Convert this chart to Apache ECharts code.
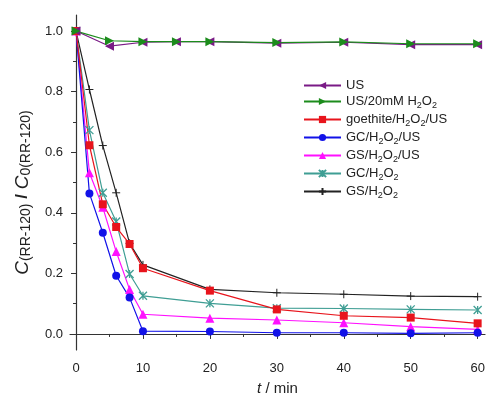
<!DOCTYPE html>
<html><head><meta charset="utf-8">
<script src="https://cdn.jsdelivr.net/npm/echarts@6/dist/echarts.min.js"></script>
<style>html,body{margin:0;padding:0;background:#fff}#c{width:490px;height:394px}</style>
</head><body><div id="c"></div>
<script>
const tUS = [0,5,10,15,20,30,40,50,60];
const us = [1.0,0.95,0.963,0.965,0.965,0.96,0.963,0.955,0.955];
const us20 = [1.0,0.968,0.965,0.965,0.965,0.962,0.964,0.958,0.958];
const t = [0,2,4,6,8,10,20,30,40,50,60];
const goethite = [1,0.623,0.428,0.353,0.297,0.217,0.143,0.081,0.06,0.054,0.035];
const gcUS = [1,0.464,0.334,0.192,0.12,0.009,0.008,0.004,0.004,0.002,0.004];
const gsUS = [1,0.532,0.418,0.272,0.147,0.065,0.052,0.046,0.037,0.024,0.015];
const gcH = [1,0.673,0.466,0.371,0.198,0.126,0.101,0.085,0.084,0.081,0.079];
const gsH = [1,0.807,0.622,0.466,0.299,0.228,0.147,0.136,0.131,0.125,0.123];
const names = ['US','US/20mM H2O2','goethite/H2O2/US','GC/H2O2/US','GS/H2O2/US','GC/H2O2','GS/H2O2'];
const xLabels = [0,10,20,30,40,50,60];
const xMinor = [5,15,25,35,45,55];
const yLabels = [0,0.2,0.4,0.6,0.8,1.0];
const yMinor = [0.1,0.3,0.5,0.7,0.9];

const pair = (xs, ys) => xs.map((x,i)=>[x,ys[i]]);
const plusPath = 'path://M5,0L5,10M0,5L10,5';
const xPath = 'path://M0,0L10,10M10,0L0,10M5,0L5,10';

function ser(name, xs, ys, color, symbol, size, extra){
  return Object.assign({
    name, type:'line', data: pair(xs,ys), symbol, symbolSize: size,
    lineStyle:{width:1.2,color}, itemStyle:{color, borderColor: color, borderWidth: 0},
    color, animation:false
  }, extra||{});
}
const series = [
  ser(names[6], t, gsH, '#222222', plusPath, 8, {itemStyle:{color:'#222',borderColor:'#222',borderWidth:1}}),
  ser(names[5], t, gcH, '#3f9e94', xPath, 8, {itemStyle:{color:'#3f9e94',borderColor:'#3f9e94',borderWidth:1.3}}),
  ser(names[4], t, gsUS, '#ff10ff', 'triangle', 9),
  ser(names[3], t, gcUS, '#1212e8', 'circle', 8),
  ser(names[2], t, goethite, '#e8141c', 'rect', 8),
  ser(names[0], tUS, us, '#7a1a86', 'triangle', 9, {symbolRotate:90}),
  ser(names[1], tUS, us20, '#1c8c1c', 'triangle', 9, {symbolRotate:-90}),
];

const fmt = n => n.replace(/H2O2/g,'H{s|2}O{s|2}');
const axisCol = '#333';
const option = {
  animation:false,
  textStyle:{fontFamily:'Liberation Sans'},
  grid:{left:70,top:15,right:5,bottom:44,outerBoundsMode:'none'},
  legend:{
    data: names, orient:'vertical', left:298, top:74,
    itemWidth:37, itemHeight:9, itemGap:3,
    formatter: fmt,
    textStyle:{fontSize:13,color:'#222',fontFamily:'Liberation Sans',
      rich:{s:{fontSize:9,verticalAlign:'bottom',padding:[8,0,0,0],color:'#222'}}}
  },
  xAxis:[{
    type:'value', min:-0.9, max:61.1,
    axisLine:{show:true,lineStyle:{color:axisCol,width:1.2}},
    axisTick:{show:true,length:5,inside:false,customValues:xLabels,lineStyle:{color:axisCol}},
    axisLabel:{customValues:xLabels,fontSize:13,color:'#222',margin:12},
    splitLine:{show:false},
    name:'{i|t} / min', nameLocation:'middle', nameGap:31,
    nameTextStyle:{fontSize:15,color:'#222',rich:{i:{fontStyle:'italic',fontSize:15,color:'#222'}}}
  },{
    type:'value', min:-0.9, max:61.1, position:'bottom',
    axisLine:{show:false},
    axisTick:{show:true,length:3,customValues:xMinor,lineStyle:{color:axisCol}},
    axisLabel:{show:false}, splitLine:{show:false}
  }],
  yAxis:[{
    type:'value', min:-0.053, max:1.053,
    axisLine:{show:true,lineStyle:{color:axisCol,width:1.2}},
    axisTick:{show:true,length:5,customValues:yLabels,lineStyle:{color:axisCol}},
    axisLabel:{customValues:yLabels,fontSize:13,color:'#222',margin:7,formatter:v=>v.toFixed(1)},
    splitLine:{show:false},
    name:'{c|C}{s|(RR-120)}{b| / }{c|C}{s|0(RR-120)}', nameLocation:'middle', nameGap:37, nameRotate:90,
    nameTextStyle:{fontSize:16,color:'#222',padding:[0,20,0,0],
      rich:{c:{fontStyle:'italic',fontSize:19,color:'#222'},
            b:{fontSize:17,fontWeight:'bold',color:'#222'},
            s:{fontSize:14,color:'#222',verticalAlign:'bottom',padding:[7,0,0,0]}}}
  },{
    type:'value', min:-0.053, max:1.053, position:'left',
    axisLine:{show:false},
    axisTick:{show:true,length:3,customValues:yMinor,lineStyle:{color:axisCol}},
    axisLabel:{show:false}, splitLine:{show:false}
  }],
  series
};
const chart = echarts.init(document.getElementById('c'),null,{renderer:'canvas'});
chart.setOption(option);
</script></body></html>
